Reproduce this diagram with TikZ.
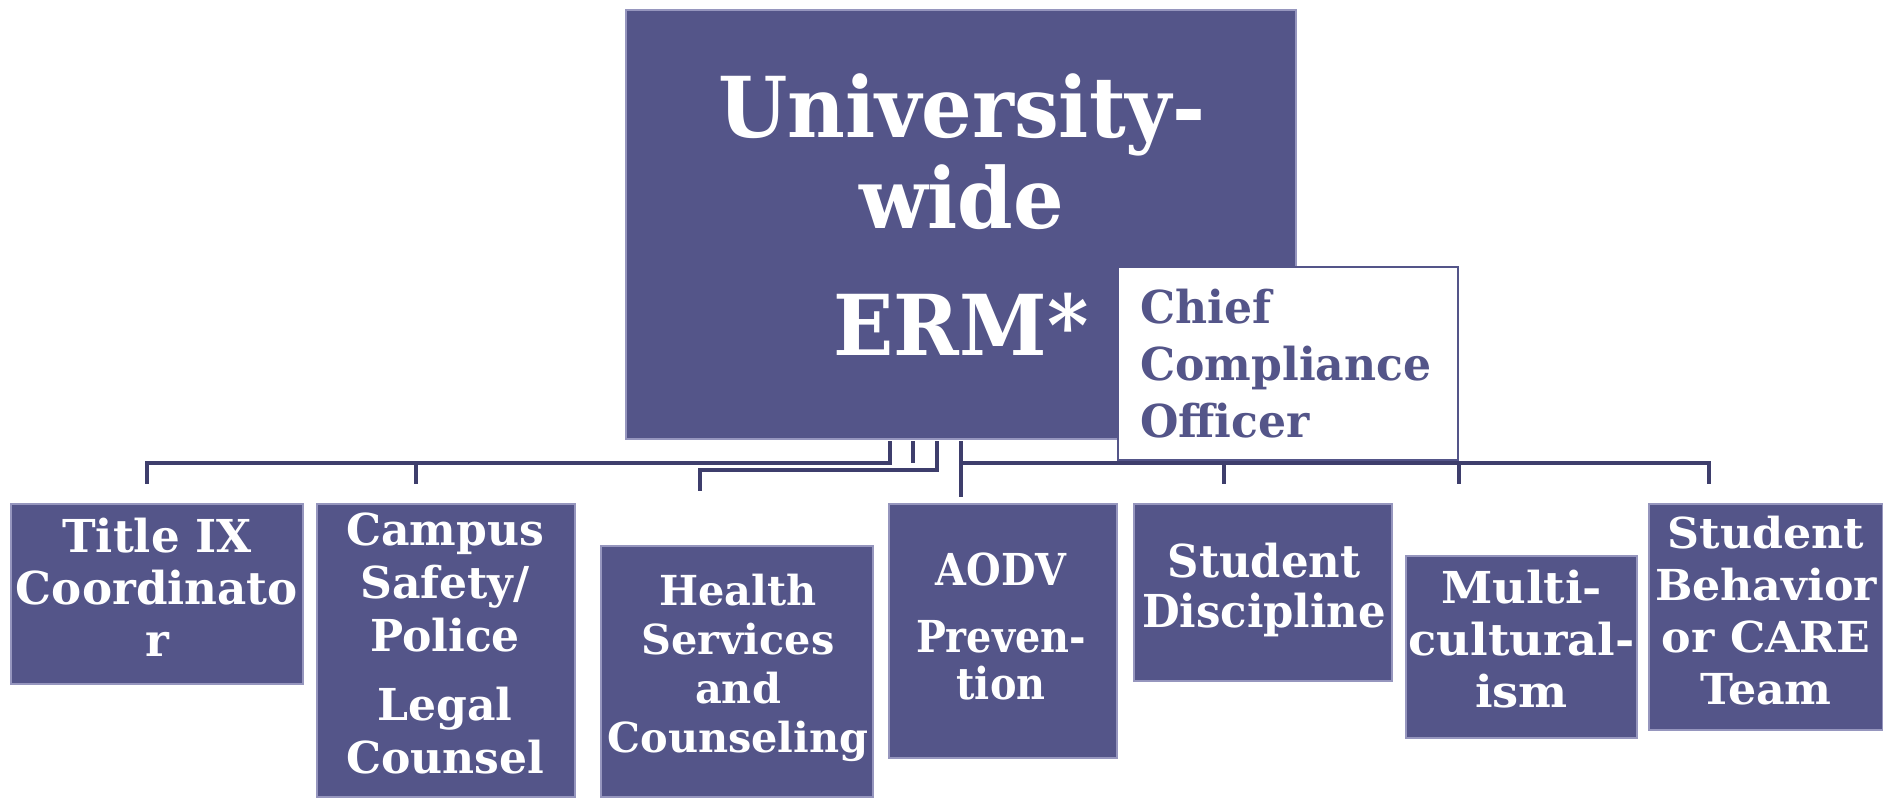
\documentclass[tikz,border=0pt]{standalone}
\usepackage{graphicx}
\usepackage{fontspec}
\setmainfont{DejaVu Serif}
\definecolor{boxfill}{RGB}{84,85,137}
\definecolor{boxline}{RGB}{150,150,190}
\definecolor{conncol}{RGB}{62,62,108}
\newsavebox\fitbox
% #1 target width (px), #2 column type, #3 rows
\newcommand\fitw[3]{%
  \sbox\fitbox{\begin{tabular}[t]{@{}#2@{}}#3\end{tabular}}%
  \pgfmathsetmacro\fitsx{0.75*#1/\the\wd\fitbox}%
  \scalebox{\fitsx}[1]{\usebox\fitbox}}
\begin{document}
\begin{tikzpicture}[x=0.75pt,y=-0.75pt,
  box/.style={draw=boxline, fill=boxfill, line width=0.8pt, inner sep=0pt},
  lbl/.style={inner sep=0pt, anchor=base, text=white,
    font=\bfseries\fontsize{#1}{#1}\selectfont},
  conn/.style={draw=conncol, line width=2.4pt}]
\useasboundingbox (0,0) rectangle (1883,797);
% main box
\node[box, minimum width=670*0.75pt, minimum height=429*0.75pt] (main) at (961,224.5) {};
\node[lbl=63] (mainA) at (961.5,137) {\fitw{487}{c}{University-}};
\node[lbl=63] (mainB) at (961.5,228) {\fitw{205}{c}{wide}};
\node[lbl=63] (mainC) at (961,355) {\fitw{255}{c}{ERM*}};
% chief compliance officer
\node[draw=boxfill, fill=white, line width=0.9pt, inner sep=0pt,
  minimum width=340*0.75pt, minimum height=193*0.75pt] (cco) at (1288,363.5) {};
\node[inner sep=0pt, anchor=base west, text=boxfill,
  font=\bfseries\fontsize{34}{42.75}\selectfont] (ccoT) at (1140,323)
  {\fitw{291}{l}{Chief\\Compliance\\Officer}};
% sub boxes
\node[box, minimum width=292*0.75pt, minimum height=180*0.75pt] (title) at (157,594) {};
\node[lbl=34, font=\bfseries\fontsize{34}{39}\selectfont] (titleT) at (157,552)
  {\fitw{282}{c}{Title IX\\Coordinato\\r}};
\node[box, minimum width=258*0.75pt, minimum height=293*0.75pt] (campus) at (446,650.5) {};
\node[lbl=33, font=\bfseries\fontsize{33}{39.75}\selectfont] (campusT) at (445,545)
  {\fitw{198}{c}{Campus\\Safety/\\Police\\[12pt]Legal\\Counsel}};
\node[box, minimum width=272*0.75pt, minimum height=251*0.75pt] (health) at (737,671.5) {};
\node[lbl=31, font=\bfseries\fontsize{31}{36.75}\selectfont] (healthT) at (738,605)
  {\fitw{261}{c}{Health\\Services\\and\\Counseling}};
\node[box, minimum width=228*0.75pt, minimum height=254*0.75pt] (aodv) at (1003,631) {};
\node[lbl=33, font=\bfseries\fontsize{33}{34}\selectfont] (aodvT) at (1001,585)
  {\fitw{170}{c}{AODV\\[16.5pt]Preven-\\tion}};
\node[box, minimum width=258*0.75pt, minimum height=177*0.75pt] (disc) at (1263,592.5) {};
\node[lbl=34, font=\bfseries\fontsize{34}{37.5}\selectfont] (discT) at (1264,577)
  {\fitw{244}{c}{Student\\Discipline}};
\node[box, minimum width=231*0.75pt, minimum height=182*0.75pt] (multi) at (1521.5,647) {};
\node[lbl=33, font=\bfseries\fontsize{33}{39}\selectfont] (multiT) at (1521.5,603)
  {\fitw{226}{c}{Multi-\\cultural-\\ism}};
\node[box, minimum width=234*0.75pt, minimum height=226*0.75pt] (beh) at (1766,617) {};
\node[lbl=32, font=\bfseries\fontsize{32}{39}\selectfont] (behT) at (1766,548)
  {\fitw{222}{c}{Student\\Behavior\\or CARE\\Team}};
% connector end points
\coordinate (a1) at (890,441);
\coordinate (a2) at (913,441);
\coordinate (a3) at (937,441);
\coordinate (a4) at (961,441);
\coordinate (t1) at (147,484);
\coordinate (t2) at (416,484);
\coordinate (t3) at (700,491);
\coordinate (t4) at (961,497);
\coordinate (t5) at (1224,484);
\coordinate (t6) at (1459,484);
\coordinate (t7) at (1709,484);
\coordinate (h1) at (0,463);
\coordinate (h2) at (0,470);
% connectors
\draw[conn] (a1) |- (h1 -| t1) -- (t1);
\draw[conn] (a2) -- (a2 |- h1);
\draw[conn] (t2 |- h1) -- (t2);
\draw[conn] (a3) |- (h2 -| t3) -- (t3);
\draw[conn] (a4) -- (t4);
\draw[conn] (a4 |- h1) -| (t7);
\draw[conn] (t5 |- h1) -- (t5);
\draw[conn] (t6 |- h1) -- (t6);
\end{tikzpicture}
\end{document}
